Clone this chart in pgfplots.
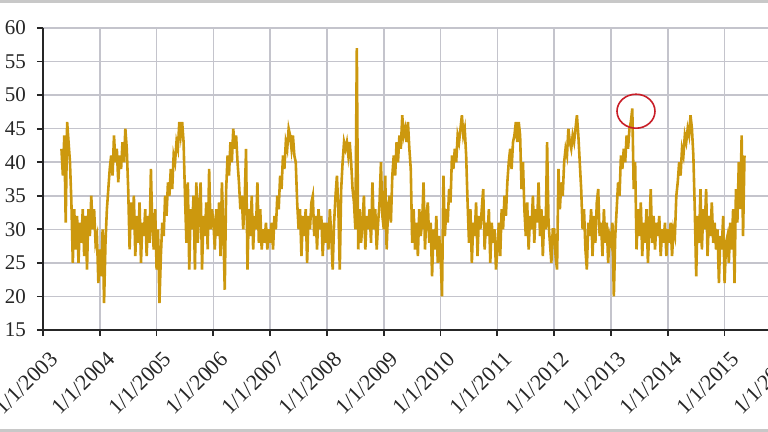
\documentclass[border=0pt]{standalone}
\usepackage{fontspec}
\setmainfont{Liberation Serif}
\usepackage{pgfplots}
\usepackage{pgfplotstable}
\pgfplotsset{compat=1.18}
\definecolor{seriesgold}{RGB}{204,152,14}
\definecolor{gridgray}{RGB}{196,196,204}
\definecolor{framegray}{RGB}{200,200,200}
\definecolor{circlered}{RGB}{200,30,40}

% weekly-ish readings (40 per year), first one at 2003.325
\pgfplotstableread[row sep=\\]{
y\\
42\\38\\44\\31\\46\\43\\40\\34\\25\\33\\27\\32\\25\\31\\28\\33\\26\\32\\24\\33\\29\\35\\30\\33\\28\\29\\22\\
27\\23\\30\\19\\28\\33\\36\\39\\41\\38\\44\\40\\42\\37\\41\\39\\43\\40\\45\\42\\36\\27\\34\\30\\35\\26\\32\\28\\34\\25\\31\\29\\33\\26\\32\\28\\39\\30\\27\\33\\
24\\30\\19\\26\\31\\29\\35\\32\\37\\35\\39\\36\\41\\40\\43\\42\\46\\44\\46\\43\\35\\28\\37\\24\\33\\30\\35\\24\\37\\28\\33\\37\\24\\32\\29\\34\\27\\39\\30\\33\\
31\\27\\33\\29\\34\\26\\37\\30\\21\\36\\41\\38\\43\\40\\45\\42\\44\\40\\37\\33\\35\\30\\34\\42\\24\\33\\29\\35\\27\\32\\30\\37\\28\\33\\27\\30\\28\\31\\27\\30\\
28\\31\\27\\32\\30\\35\\33\\38\\36\\41\\39\\43\\42\\45\\44\\42\\44\\41\\40\\34\\30\\33\\26\\32\\29\\33\\25\\32\\30\\34\\35\\29\\32\\27\\33\\30\\32\\26\\31\\28\\
31\\27\\33\\29\\24\\31\\35\\38\\33\\24\\36\\40\\43\\42\\43\\41\\43\\40\\36\\34\\30\\57\\27\\33\\28\\31\\35\\27\\32\\30\\33\\28\\37\\30\\33\\27\\31\\34\\40\\32\\
30\\38\\27\\33\\35\\31\\38\\41\\38\\43\\40\\44\\42\\47\\44\\45\\43\\46\\42\\39\\28\\33\\27\\31\\26\\33\\29\\31\\37\\27\\32\\34\\28\\31\\23\\30\\27\\32\\25\\29\\
26\\20\\38\\29\\33\\31\\36\\34\\41\\39\\42\\40\\44\\43\\45\\47\\44\\45\\41\\34\\28\\33\\25\\31\\29\\34\\26\\32\\30\\33\\36\\27\\31\\29\\33\\25\\31\\28\\30\\24\\
27\\31\\26\\33\\30\\35\\32\\37\\40\\42\\39\\43\\44\\46\\43\\46\\44\\36\\40\\33\\29\\34\\27\\32\\30\\35\\28\\33\\31\\37\\29\\33\\26\\32\\30\\43\\31\\28\\25\\30\\
30\\26\\24\\39\\33\\37\\35\\40\\42\\41\\45\\43\\42\\44\\43\\45\\47\\44\\40\\36\\30\\33\\27\\24\\31\\29\\33\\26\\32\\28\\34\\36\\29\\31\\26\\33\\28\\31\\25\\29\\
28\\31\\20\\29\\33\\37\\35\\41\\39\\42\\40\\44\\42\\45\\46\\48\\36\\40\\27\\33\\29\\34\\26\\31\\28\\33\\25\\30\\36\\28\\32\\27\\31\\29\\32\\26\\30\\28\\31\\26\\
30\\28\\31\\26\\30\\29\\35\\37\\40\\38\\42\\41\\44\\43\\45\\44\\47\\45\\41\\33\\23\\32\\28\\36\\27\\33\\30\\36\\26\\32\\29\\34\\28\\31\\27\\30\\22\\29\\27\\32\\
22\\28\\29\\25\\31\\27\\33\\22\\36\\31\\40\\33\\44\\29\\41\\
}\vixdata

\begin{document}
\begin{tikzpicture}
\begin{axis}[
  at={(0,0)}, anchor=south west,
  scale only axis,
  width=383.4pt, height=151pt,
  xmin=2003, xmax=2016.5,
  ymin=15, ymax=60,
  axis x line*=bottom, axis y line*=left,
  axis line style={line width=1pt, black!85},
  xtick={2003,2004,...,2016},
  xticklabels={1/1/2003,1/1/2004,1/1/2005,1/1/2006,1/1/2007,1/1/2008,1/1/2009,1/1/2010,1/1/2011,1/1/2012,1/1/2013,1/1/2014,1/1/2015,1/1/2016},
  ytick={15,20,...,60},
  tick align=outside,
  major tick length=3pt,
  tick style={line width=0.9pt, black!85},
  grid=major,
  major grid style={line width=0.8pt, gridgray},
  /pgf/number format/assume math mode=true,
  tick label style={font=\fontsize{10.5}{12}\selectfont, black!85},
  x tick label style={rotate=45, anchor=north east, xshift=0.5pt, yshift=-3.5pt, font=\fontsize{11}{12}\selectfont},
  y tick label style={xshift=-2pt},
  clip=false,
]
\addplot[seriesgold, line width=1.3pt, no markers] table[x expr=2003.325+\coordindex/40, y=y] {\vixdata};
\draw[circlered, line width=0.8pt] (axis cs:2013.44,47.6) ellipse [x radius=9.5pt, y radius=8.5pt];
\end{axis}
\pgfresetboundingbox
\useasboundingbox (-21.5pt,-51pt) rectangle (362.5pt,165pt);
\fill[framegray] (-21.5pt,163.6pt) rectangle (362.5pt,165pt);
\fill[framegray] (-21.5pt,-51pt) rectangle (362.5pt,-49.3pt);
\end{tikzpicture}
\end{document}
